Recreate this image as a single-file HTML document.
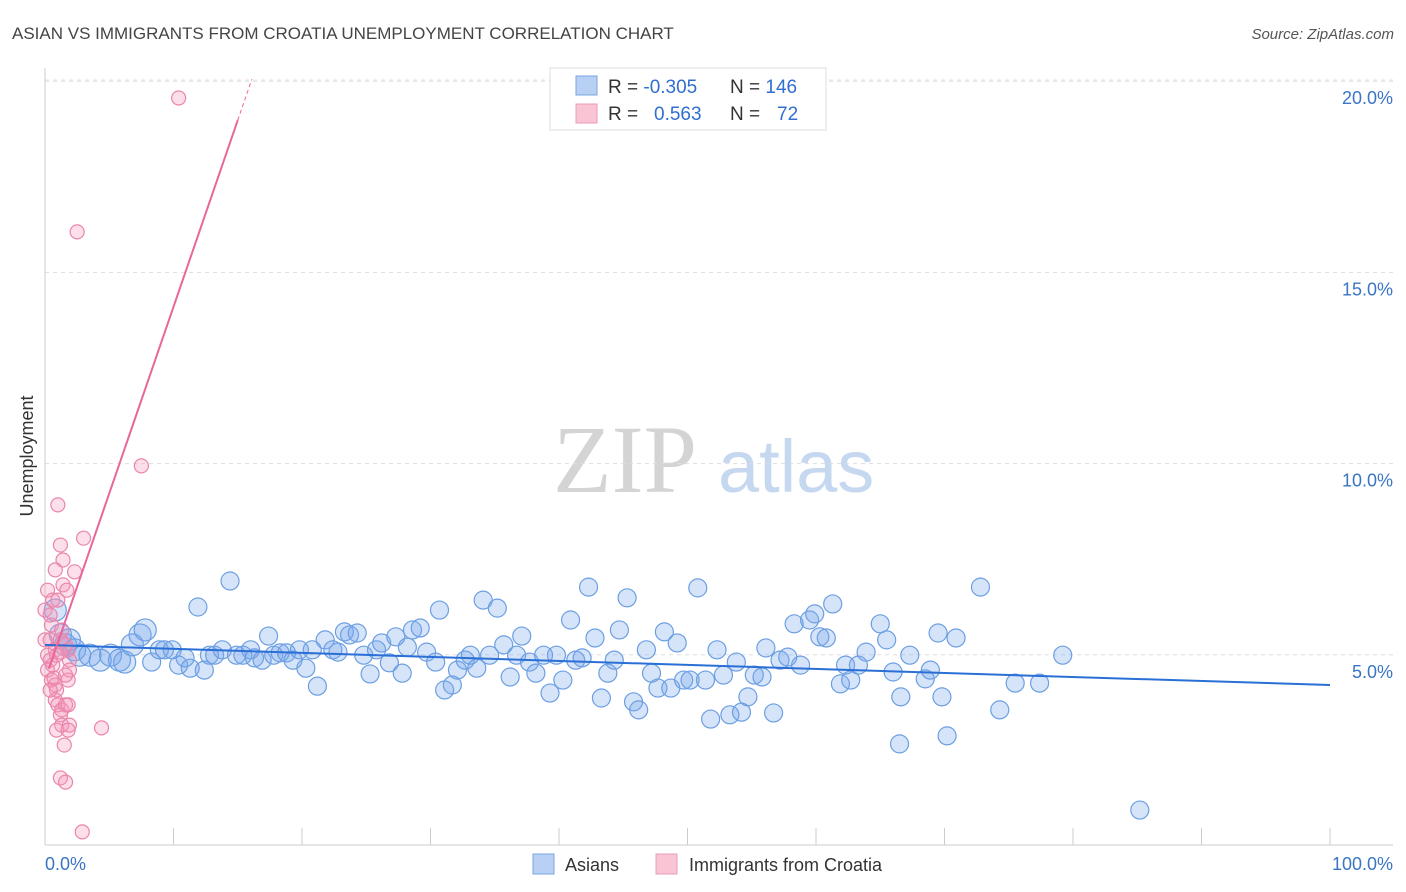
<!DOCTYPE html>
<html><head><meta charset="utf-8">
<style>
body{margin:0;background:#fff;font-family:"Liberation Sans",sans-serif;}
svg{display:block}
</style></head>
<body>
<svg width="1406" height="892" viewBox="0 0 1406 892">
<text x="12" y="39" font-size="17" fill="#444">ASIAN VS IMMIGRANTS FROM CROATIA UNEMPLOYMENT CORRELATION CHART</text>
<text x="1394" y="39" font-size="15" fill="#555" font-style="italic" text-anchor="end">Source: ZipAtlas.com</text>
<g>
<text x="553" y="492" font-size="96" font-family="Liberation Serif,serif" fill="#d4d4d4">ZIP</text>
<text x="718" y="492" font-size="74" fill="#c5d8f0">atlas</text>
</g>
<text transform="translate(33,456) rotate(-90)" font-size="18" fill="#333" text-anchor="middle">Unemployment</text>
<g id="grid"></g>
<g id="axes"></g>
<g id="pts"></g>
<g id="lines"></g>
<g>
<rect x="550" y="68" width="276" height="62" fill="#fff" stroke="#ddd"/>
<rect x="576" y="76" width="21" height="19" fill="#b8d0f3" stroke="#7aa6e3"/>
<rect x="576" y="104" width="21" height="19" fill="#f9c4d4" stroke="#ec9bb8"/>
<text x="608" y="93" font-size="19" fill="#333">R = <tspan fill="#2f6fcf">-0.305</tspan><tspan x="730">N = </tspan><tspan fill="#2f6fcf">146</tspan></text>
<text x="608" y="120" font-size="19" fill="#333">R = <tspan x="654" fill="#2f6fcf">0.563</tspan><tspan x="730">N = </tspan><tspan x="777" fill="#2f6fcf">72</tspan></text>
</g>
<g>
<rect x="533" y="854" width="21" height="20" fill="#b8d0f3" stroke="#7aa6e3"/>
<text x="565" y="871" font-size="18" fill="#333">Asians</text>
<rect x="656" y="854" width="21" height="20" fill="#f9c4d4" stroke="#ec9bb8"/>
<text x="689" y="871" font-size="18" fill="#333">Immigrants from Croatia</text>
</g>
<text x="45" y="870" font-size="18" fill="#3a75c4">0.0%</text>
<text x="1393" y="870" font-size="18" fill="#3a75c4" text-anchor="end">100.0%</text>
</svg>
<script>
const yTicks=[5,10,15,20];
const yTickLabels=["5.0%","10.0%","15.0%","20.0%"];
const xTicks=[0,10,20,30,40,50,60,70,80,90,100];
const asianX=[0.8,1.2,1.6,1.9,2.3,2.7,3.5,4.3,5.1,5.8,6.2,6.8,7.4,7.8,8.3,8.9,9.3,9.9,10.4,10.9,11.3,11.9,12.4,12.8,13.2,13.8,14.4,14.9,15.4,16.0,16.3,16.9,17.4,17.8,18.3,18.8,19.3,19.8,20.3,20.8,21.2,21.8,22.4,22.8,23.3,23.7,24.3,24.8,25.3,25.8,26.2,26.8,27.3,27.8,28.2,28.6,29.2,29.7,30.4,30.7,31.1,31.7,32.1,32.7,33.1,33.6,34.1,34.6,35.2,35.7,36.2,36.7,37.1,37.7,38.2,38.8,39.3,39.8,40.3,40.9,41.3,41.8,42.3,42.8,43.3,43.8,44.3,44.7,45.3,45.8,46.2,46.8,47.2,47.7,48.2,48.7,49.2,49.7,50.2,50.8,51.4,51.8,52.3,52.8,53.3,53.8,54.2,54.7,55.2,55.8,56.1,56.7,57.2,57.8,58.3,58.8,59.5,59.9,60.3,60.8,61.3,61.9,62.3,62.7,63.3,63.9,65.0,65.5,66.0,66.5,66.6,67.3,68.5,68.9,69.5,69.8,70.2,70.9,72.8,74.3,75.5,77.4,79.2,85.2];
const asianY=[6.17,5.52,5.26,5.39,5.13,4.99,4.99,4.86,4.99,4.86,4.81,5.26,5.52,5.65,4.81,5.13,5.13,5.13,4.73,4.92,4.65,6.25,4.60,4.99,4.99,5.13,6.93,4.99,4.99,5.13,4.92,4.86,5.49,4.99,5.05,5.05,4.86,5.13,4.65,5.13,4.18,5.39,5.13,5.07,5.60,5.52,5.57,4.99,4.50,5.13,5.31,4.79,5.47,4.52,5.20,5.65,5.70,5.07,4.81,6.17,4.08,4.21,4.60,4.86,4.99,4.65,6.43,4.99,6.22,5.26,4.42,4.99,5.49,4.81,4.52,4.99,4.00,4.99,4.34,5.91,4.86,4.92,6.77,5.44,3.87,4.52,4.86,5.65,6.49,3.77,3.56,5.13,4.52,4.13,5.60,4.13,5.31,4.34,4.34,6.75,4.34,3.32,5.13,4.47,3.43,4.81,3.50,3.90,4.47,4.42,5.18,3.48,4.86,4.94,5.81,4.73,5.91,6.07,5.47,5.44,6.33,4.24,4.73,4.34,4.73,5.07,5.81,5.39,4.55,2.67,3.90,4.99,4.37,4.60,5.57,3.90,2.88,5.44,6.77,3.56,4.26,4.26,4.99,0.94];
const croX=[0,0.2,0.4,0.5,0.6,0.8,0.4,0.2,0.5,0.8,0.9,1.2,1.3,1.6,1.8,1.9,1.0,1.4,1.7,1.2,1.4,1.0,0.8,2.3,3.0,1.9,1.8,1.6,0.8,1.0,1.3,1.6,1.8,1.2,1.3,0.9,1.9,1.8,1.5,4.4,1.2,1.6,2.9,2.5,7.5,10.4,0.4,0,0.2,0.6,0.9,1.2,0.4,0.7];
const croY=[6.17,6.69,5.39,5.78,6.43,5.13,4.86,4.60,4.34,4.21,4.08,5.39,5.65,5.26,5.13,4.86,6.43,6.83,6.69,7.87,7.48,8.92,7.22,7.17,8.05,4.60,4.34,4.47,3.82,3.69,3.56,3.69,3.69,3.43,3.16,3.03,3.16,3.03,2.64,3.09,1.78,1.67,0.37,16.06,9.94,19.56,6.04,5.39,4.99,4.73,4.99,5.07,4.08,4.39];
const asianTrend=[5.26,4.21];
const croTrend=[4.34,0.976];
const X0=45,X1=1330,Y0=846,PXY=38.24;
const sx=v=>X0+(X1-X0)*v/100, sy=v=>Y0-v*PXY;
const NS="http://www.w3.org/2000/svg";
function mk(tag,attrs,parent){const e=document.createElementNS(NS,tag);for(const k in attrs)e.setAttribute(k,attrs[k]);parent.appendChild(e);return e;}
const grid=document.getElementById('grid'),axes=document.getElementById('axes'),pts=document.getElementById('pts'),lines=document.getElementById('lines');
yTicks.forEach((t,i)=>{
 const l=mk('line',{x1:45,x2:1393,y1:sy(t),y2:sy(t),stroke:'#ddd','stroke-dasharray':'4,4'},grid);
 
 
 const tx=mk('text',{x:1393,y:sy(t)+23,'font-size':18,fill:'#3a75c4','text-anchor':'end'},grid);
 tx.textContent=yTickLabels[i];
 
 
});
const topG=mk('line',{x1:45,x2:1393,y1:80,y2:80,stroke:'#e4e4e4','stroke-dasharray':'4,4'},grid);


const ya=mk('line',{x1:45,x2:45,y1:68,y2:845,stroke:'#ccc'},axes);


const xa=mk('line',{x1:45,x2:1393,y1:845,y2:845,stroke:'#ccc'},axes);


xTicks.forEach(t=>{
 const l=mk('line',{x1:sx(t),x2:sx(t),y1:828,y2:845,stroke:'#ccc'},axes);
 
 
});
asianX.forEach((x,i)=>{
 const r=x<8?11:9;
 const c=mk('circle',{cx:sx(x),cy:sy(asianY[i]),r:r,fill:'rgba(120,165,235,0.3)',stroke:'#6c9fe2','stroke-width':1.2},pts);
 
 
});
croX.forEach((x,i)=>{
 const c=mk('circle',{cx:sx(x),cy:sy(croY[i]),r:7,fill:'rgba(245,150,185,0.3)',stroke:'#ea86ab','stroke-width':1.2},pts);
 
 
});
const bl=mk('line',{x1:sx(0),y1:sy(asianTrend[0]),x2:sx(100),y2:sy(asianTrend[1]),stroke:'#2a6fd6','stroke-width':2},lines);


const cy=x=>croTrend[0]+croTrend[1]*x;
const pl=mk('line',{x1:sx(0.3),y1:sy(cy(0.3)),x2:sx(15),y2:sy(cy(15)),stroke:'#e8679a','stroke-width':2},lines);


const pd=mk('line',{x1:sx(15),y1:sy(cy(15)),x2:sx(16.1),y2:sy(cy(16.1)),stroke:'#e8679a','stroke-width':1,'stroke-dasharray':'4,3'},lines);


</script>
</body></html>
